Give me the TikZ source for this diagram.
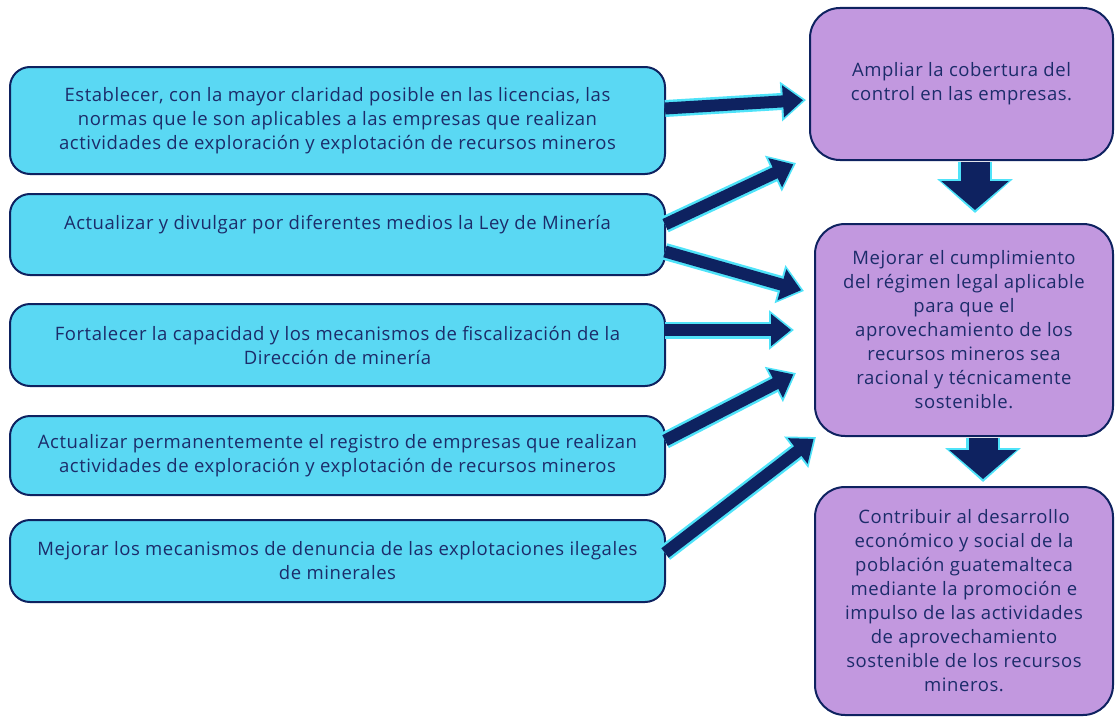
\documentclass[tikz,border=0pt]{standalone}
\usepackage{fontspec}
\setmainfont{Open Sans}[LetterSpace=3]
\usetikzlibrary{arrows.meta, positioning, calc}
\definecolor{skyfill}{HTML}{5AD8F3}
\definecolor{navy}{HTML}{0E2260}
\definecolor{rim}{HTML}{4FE3F9}
\definecolor{lilac}{HTML}{C298DF}
\definecolor{ink}{HTML}{1C2C6A}

\begin{document}
\begin{tikzpicture}[
    x=1pt, y=-1pt,
    actbox/.style={
        rectangle, rounded corners=20pt, draw=navy, line width=2pt,
        fill=skyfill, minimum width=655pt, text=ink, align=center,
        font=\fontsize{18.5}{24}\selectfont
    },
    goalbox/.style={
        rectangle, rounded corners=30pt, draw=navy, line width=2pt,
        fill=lilac, minimum width=298pt, text=ink, align=center,
        font=\fontsize{18.5}{24}\selectfont
    },
    thinrim/.style={rim, line width=17pt, -{Triangle[length=25pt, width=38pt]}},
    thincore/.style={navy, line width=12pt, shorten >=3pt, -{Triangle[length=20pt, width=31pt]}},
    widerim/.style={rim, line width=34pt, -{Triangle[length=34pt, width=74pt]}},
    widecore/.style={navy, line width=29pt, shorten >=3pt, -{Triangle[length=29pt, width=66pt]}},
]
\useasboundingbox (0,0) rectangle (1115,717);

% Left boxes: actions
\node[actbox, minimum height=107pt] (act1) at (337.5,120.5)
    {Establecer, con la mayor claridad posible en las licencias, las\\normas que le son aplicables a las empresas que realizan\\actividades de exploración y explotación de recursos mineros};
\node[actbox, minimum height=81pt] (act2) at (337.5,234.5)
    {Actualizar y divulgar por diferentes medios la Ley de Minería\\\mbox{}};
\node[actbox, minimum height=82pt] (act3) at (337.5,345)
    {Fortalecer la capacidad y los mecanismos de fiscalización de la\\Dirección de minería};
\node[actbox, minimum height=79pt] (act4) at (337.5,455.5)
    {Actualizar permanentemente el registro de empresas que realizan\\actividades de exploración y explotación de recursos mineros};
\node[actbox, minimum height=82pt] (act5) at (337.5,561)
    {Mejorar los mecanismos de denuncia de las explotaciones ilegales\\de minerales};

% Right boxes: goals
\node[goalbox, minimum width=303pt, minimum height=152pt] (goal1) at (961.5,84)
    {Ampliar la cobertura del\\control en las empresas.};
\node[goalbox, minimum height=212pt] (goal2) at (964,330)
    {Mejorar el cumplimiento\\del régimen legal aplicable\\para que el\\aprovechamiento de los\\recursos mineros sea\\racional y técnicamente\\sostenible.};
\node[goalbox, minimum height=228pt] (goal3) at (964,601)
    {Contribuir al desarrollo\\económico y social de la\\población guatemalteca\\mediante la promoción e\\impulso de las actividades\\de aprovechamiento\\sostenible de los recursos\\mineros.};

% Arrow tips
\coordinate (tip1) at (806,100);
\coordinate (tip2) at (796,163);
\coordinate (tip3) at (804,291);
\coordinate (tip4) at (794,330);
\coordinate (tip5) at (796,373);
\coordinate (tip6) at (816,437);
\coordinate (tip7) at (975,213);
\coordinate (tip8) at (983,482);

% Action arrows
\foreach \src/\dy/\dst in {act1/-12/tip1, act2/-10/tip2, act2/17/tip3, act3/-15/tip4, act4/-15/tip5, act5/-8/tip6} {
    \draw[thinrim] ($(\src.east)+(-1,\dy)$) -- (\dst);
    \draw[thincore] ($(\src.east)+(-1,\dy)$) -- (\dst);
}

% Goal arrows
\draw[widerim] ($(goal1.south)+(13.5,1)$) -- (tip7);
\draw[widecore] ($(goal1.south)+(13.5,1)$) -- (tip7);
\draw[widerim] ($(goal2.south)+(19,1)$) -- (tip8);
\draw[widecore] ($(goal2.south)+(19,1)$) -- (tip8);

\end{tikzpicture}
\end{document}
